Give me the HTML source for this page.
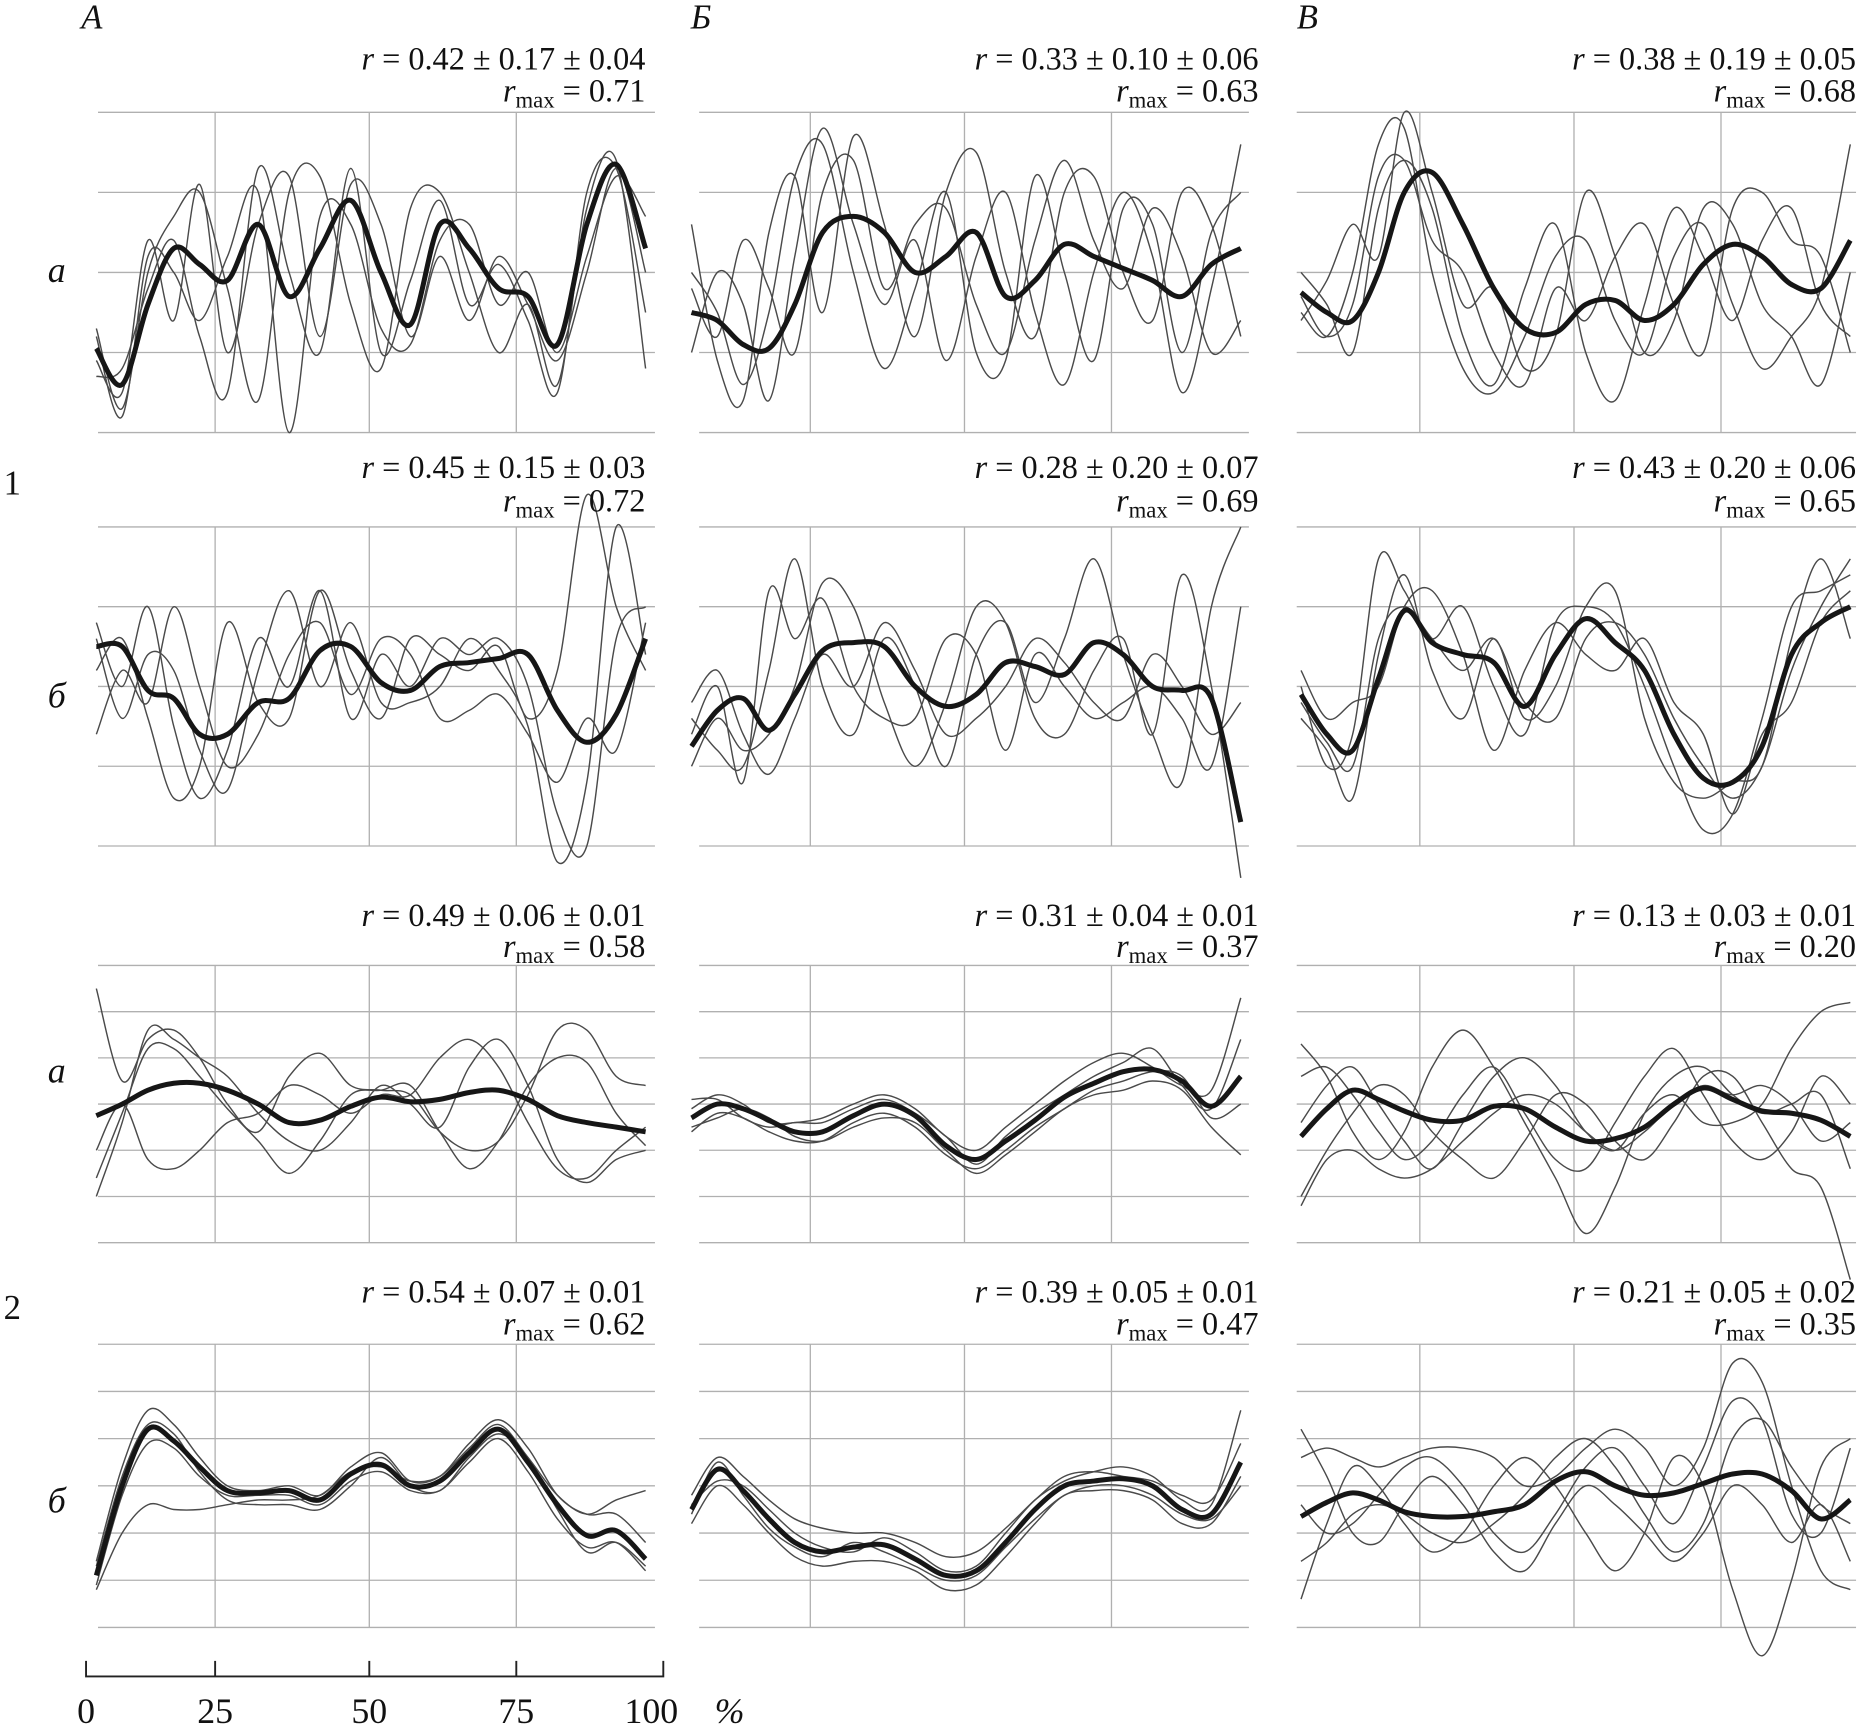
<!DOCTYPE html>
<html><head><meta charset="utf-8"><style>
html,body{margin:0;padding:0;background:#fff;}
svg{display:block;}
text{font-family:"Liberation Serif","DejaVu Serif",serif;fill:#111;}
</style></head><body>
<svg id="fig" width="1868" height="1729" viewBox="0 0 1563 1447" preserveAspectRatio="none" xmlns="http://www.w3.org/2000/svg"></svg>
<script>
const xsPct = [2,7,12,17,22,27,32,37,42,47,52,57,62,67,72,77,82,87,92,97];
const colLabels = ["А","Б","В"];
const rowLabels = ["а","б","а","б"];
const groupLabels = ["1","2"];
const axisTicks = [0,25,50,75,100];
const rTexts = [
 ["r = 0.42 ± 0.17 ± 0.04","r = 0.33 ± 0.10 ± 0.06","r = 0.38 ± 0.19 ± 0.05"],
 ["r = 0.45 ± 0.15 ± 0.03","r = 0.28 ± 0.20 ± 0.07","r = 0.43 ± 0.20 ± 0.06"],
 ["r = 0.49 ± 0.06 ± 0.01","r = 0.31 ± 0.04 ± 0.01","r = 0.13 ± 0.03 ± 0.01"],
 ["r = 0.54 ± 0.07 ± 0.01","r = 0.39 ± 0.05 ± 0.01","r = 0.21 ± 0.05 ± 0.02"]];
const rMax = [["0.71","0.63","0.68"],["0.72","0.69","0.65"],["0.58","0.37","0.20"],["0.62","0.47","0.35"]];

// Row 1a
const mean1aA=[1.05,0.6,1.6,2.3,2.1,1.9,2.6,1.7,2.3,2.9,2.0,1.35,2.6,2.3,1.8,1.7,1.1,2.6,3.35,2.3];
const thin1aA=[[1.3,0.3,2.0,2.7,3.0,1.8,0.4,3.0,3.2,1.6,0.8,2.8,3.0,2.0,1.0,1.6,0.6,2.8,3.4,0.8],[0.9,0.5,2.4,1.4,3.1,1.0,2.6,3.2,1.2,3.1,2.6,1.2,2.2,1.4,2.2,1.6,0.9,2.0,3.3,2.0],[0.7,0.8,1.8,2.4,1.2,0.5,3.3,2.0,1.0,3.3,1.0,1.9,2.9,1.6,2.1,1.4,0.5,3.0,3.3,1.5],[1.2,0.2,2.2,2.0,1.4,2.2,3.0,0.0,2.7,2.6,1.3,1.1,2.4,2.6,1.6,2.0,1.0,2.2,3.2,2.7]];
const mean1aB=[1.5,1.4,1.1,1.05,1.6,2.5,2.7,2.5,2.0,2.2,2.5,1.7,1.9,2.35,2.2,2.05,1.9,1.7,2.1,2.3];
const thin1aB=[[2.0,1.5,0.6,1.5,3.2,3.6,2.0,0.8,1.8,3.0,1.0,0.9,3.2,2.0,0.9,2.8,2.6,1.0,2.5,3.0],[2.6,0.9,0.4,2.5,3.2,1.5,3.7,2.6,1.2,3.0,3.5,2.0,1.2,3.0,3.2,2.0,1.4,3.0,2.6,1.2],[1.0,2.0,1.6,0.4,2.2,3.8,2.6,1.6,2.4,0.9,2.2,3.0,1.5,0.6,2.0,3.0,2.2,0.5,1.8,3.6],[1.8,1.2,2.4,1.8,1.0,3.0,3.4,1.8,2.6,2.8,1.6,1.0,2.4,3.4,2.4,1.8,2.8,2.2,1.0,1.4]];
const mean1aV=[1.75,1.5,1.4,2.0,3.0,3.25,2.6,1.8,1.3,1.25,1.6,1.65,1.4,1.6,2.1,2.35,2.2,1.85,1.8,2.4];
const thin1aV=[[1.5,1.2,2.0,3.6,3.8,2.0,0.8,0.5,1.2,2.2,2.4,1.4,1.0,2.2,2.6,1.6,0.8,1.2,1.8,3.6],[2.0,1.6,1.0,2.8,3.4,2.8,1.2,0.6,1.8,2.6,1.0,0.4,1.6,2.8,2.2,1.4,2.4,2.8,1.6,1.2],[1.4,1.9,2.6,2.2,4.0,3.0,1.6,1.8,0.8,1.2,3.0,2.2,1.0,1.4,2.8,2.6,1.6,1.2,0.6,2.0],[1.7,1.2,1.6,3.2,3.4,2.4,2.0,1.0,0.6,1.8,1.4,2.2,2.6,1.6,1.0,2.8,3.0,2.4,2.2,1.0]];
// Row 1b
const mean1bA=[2.5,2.5,1.95,1.85,1.4,1.4,1.8,1.85,2.45,2.5,2.05,1.95,2.25,2.3,2.35,2.4,1.7,1.3,1.65,2.6];
const thin1bA=[[2.8,2.0,3.0,1.5,0.6,1.2,2.6,2.0,3.2,1.6,2.4,2.0,2.6,2.4,2.6,2.0,0.4,0.0,2.6,3.0],[2.2,2.6,1.6,0.6,1.0,2.8,1.8,1.6,3.2,2.2,1.6,2.6,2.4,2.2,2.5,1.6,2.2,4.4,3.0,2.2],[2.6,1.6,2.4,2.2,1.2,0.7,2.2,3.2,2.0,2.8,1.8,1.8,2.0,2.6,2.2,1.5,-0.2,0.8,4.0,2.4],[1.4,2.2,1.8,3.0,2.0,1.0,1.4,2.4,2.8,1.9,2.6,2.4,1.6,1.7,1.9,1.4,0.8,1.6,1.2,2.8]];
const mean1bB=[1.25,1.7,1.85,1.45,1.9,2.45,2.55,2.5,2.0,1.75,1.9,2.3,2.25,2.15,2.55,2.4,2.0,1.95,1.85,0.3];
const thin1bB=[[1.6,1.2,1.0,2.2,3.6,2.0,1.4,2.6,2.0,1.0,2.4,2.8,1.8,2.6,3.6,2.4,1.4,0.8,3.0,4.0],[1.4,2.0,0.8,3.2,2.6,3.1,2.0,1.6,1.6,2.6,2.4,1.2,2.4,2.0,1.6,1.8,2.0,1.6,1.0,3.0],[1.0,1.6,1.2,1.4,2.0,3.3,3.0,1.8,1.0,1.8,3.0,2.8,1.6,1.4,2.2,2.6,1.4,3.4,2.0,-0.4],[1.8,2.2,1.4,0.9,1.6,2.4,2.0,2.8,2.2,1.4,1.6,2.0,2.6,2.3,1.8,1.6,2.4,2.0,1.4,1.8]];
const mean1bV=[1.9,1.4,1.2,2.1,2.95,2.55,2.4,2.3,1.75,2.4,2.85,2.55,2.2,1.4,0.85,0.8,1.25,2.4,2.8,3.0];
const thin1bV=[[2.0,1.0,1.4,3.6,3.2,2.6,3.0,2.0,1.4,2.8,3.0,2.8,2.0,1.0,0.2,0.4,1.6,3.0,3.2,3.4],[1.6,1.2,0.6,2.4,3.4,2.2,1.6,2.6,1.6,2.0,3.0,3.2,1.6,0.8,0.6,0.8,1.0,2.6,3.6,2.6],[2.2,1.6,1.8,2.0,3.0,3.2,2.4,1.2,2.2,2.8,2.4,2.2,2.6,1.8,1.4,0.4,1.4,1.8,2.8,3.2],[1.8,1.3,1.0,2.6,3.0,2.6,2.2,2.6,1.8,1.6,2.6,2.8,2.4,1.6,1.0,0.6,1.0,2.2,3.0,3.6]];
// Row 2a
const mean2aA=[2.75,3.0,3.3,3.45,3.45,3.3,3.0,2.6,2.65,2.95,3.15,3.05,3.1,3.25,3.3,3.1,2.75,2.6,2.5,2.4];
const thin2aA=[[5.5,3.5,4.4,4.6,4.0,3.0,2.4,3.6,4.1,3.4,3.3,3.2,2.4,2.0,2.2,3.2,4.6,4.6,3.6,3.4],[1.0,2.6,4.6,4.4,4.0,3.6,2.8,2.2,2.0,2.6,3.4,3.0,2.5,3.8,4.4,3.4,1.8,1.3,1.8,2.0],[2.0,3.0,1.8,1.6,2.0,2.6,2.8,3.4,3.2,2.8,3.2,3.2,4.0,4.4,3.8,2.6,1.6,1.4,2.0,2.5],[1.4,2.8,4.2,4.2,3.6,2.9,2.2,1.5,2.2,3.2,3.3,3.4,2.4,1.6,2.2,3.4,4.0,3.9,2.8,2.1]];
const mean2aB=[2.7,3.0,2.9,2.65,2.4,2.4,2.75,3.0,2.75,2.1,1.8,2.2,2.65,3.15,3.45,3.7,3.75,3.5,2.95,3.6];
const thin2aB=[[2.9,3.2,3.0,2.6,2.6,2.7,3.0,3.2,2.9,2.3,2.0,2.5,3.0,3.5,3.9,4.1,3.8,3.4,3.3,5.3],[2.4,2.8,2.7,2.4,2.2,2.2,2.6,2.8,2.5,1.9,1.6,2.0,2.5,2.9,3.3,3.5,3.7,3.6,2.7,3.0],[3.1,3.1,2.7,2.5,2.6,2.6,2.9,3.1,2.8,2.3,1.7,2.3,2.8,3.2,3.6,3.9,4.2,3.4,2.9,4.4],[2.5,2.7,2.9,2.7,2.3,2.2,2.5,2.7,2.6,2.0,1.5,1.9,2.4,2.9,3.2,3.3,3.5,3.3,2.5,1.9]];
const mean2aV=[2.3,2.9,3.3,3.1,2.85,2.65,2.65,2.95,2.9,2.5,2.2,2.25,2.5,3.0,3.35,3.1,2.85,2.8,2.65,2.3];
const thin2aV=[[4.3,3.6,2.4,1.8,2.4,3.8,4.6,3.8,2.6,1.4,0.2,1.2,2.8,3.6,3.8,3.2,2.8,3.0,3.2,1.6],[2.6,3.4,3.8,3.0,2.2,1.6,2.6,3.6,4.0,3.4,2.4,2.0,2.8,3.2,2.6,2.6,3.0,4.2,5.0,5.2],[1.0,2.0,2.8,3.4,3.2,2.4,1.8,1.4,2.2,3.2,3.0,2.2,1.8,2.6,3.6,3.6,2.6,1.6,1.2,-0.8],[3.6,3.8,3.2,2.4,1.8,2.2,3.2,3.8,2.8,1.8,1.6,2.6,3.6,4.2,3.2,2.2,1.8,2.4,3.6,3.0],[0.8,1.8,2.0,1.6,1.4,1.6,2.2,2.8,3.2,3.0,2.4,2.0,2.4,3.0,3.4,3.2,3.4,3.0,2.2,2.6]];
// Row 2b
const mean2bA=[1.1,3.0,4.2,3.95,3.4,2.9,2.85,2.9,2.7,3.25,3.45,3.0,3.1,3.7,4.2,3.5,2.6,1.95,2.05,1.45];
const thin2bA=[[1.4,3.4,4.6,4.3,3.6,3.0,2.9,3.0,2.8,3.4,3.7,3.1,3.2,3.9,4.4,3.8,2.8,2.4,2.4,1.8],[0.9,2.8,3.9,3.8,3.2,2.8,2.8,2.8,2.6,3.1,3.3,2.9,2.9,3.5,4.0,3.3,2.3,1.7,1.8,1.2],[0.8,2.0,2.6,2.5,2.5,2.6,2.7,2.7,2.8,3.3,3.4,3.1,3.2,3.8,4.3,3.6,2.8,2.4,2.7,2.9],[1.3,3.2,4.3,4.1,3.3,2.7,2.6,2.6,2.5,3.0,3.6,3.0,2.9,3.6,4.1,3.6,2.5,1.6,1.8,1.3]];
const mean2bB=[2.5,3.35,2.9,2.3,1.8,1.6,1.7,1.75,1.45,1.1,1.2,1.8,2.5,3.0,3.1,3.15,3.0,2.5,2.4,3.5];
const thin2bB=[[2.8,3.6,3.2,2.7,2.3,2.1,2.0,2.0,1.8,1.5,1.6,2.1,2.7,3.2,3.3,3.2,3.1,2.8,2.7,3.9],[2.2,3.0,2.6,2.0,1.5,1.3,1.4,1.4,1.2,0.8,0.9,1.5,2.2,2.8,2.9,2.9,2.7,2.2,2.2,3.2],[2.6,3.1,3.0,2.5,2.0,1.7,1.6,1.9,1.6,1.2,1.3,2.0,2.7,3.1,3.3,3.4,3.2,2.7,2.6,4.6],[2.4,3.5,2.8,2.1,1.7,1.5,1.8,1.6,1.3,1.0,1.1,1.7,2.3,2.8,3.0,3.0,2.8,2.4,2.3,3.0]];
const mean2bV=[2.35,2.65,2.85,2.7,2.45,2.35,2.35,2.45,2.6,3.1,3.3,3.0,2.8,2.85,3.05,3.25,3.25,2.9,2.3,2.7];
const thin2bV=[[3.6,3.8,3.6,3.4,3.6,3.8,3.8,3.6,3.0,3.2,3.8,4.2,3.8,3.0,3.8,5.6,5.2,3.0,1.2,0.8],[0.6,2.2,3.4,3.0,2.2,1.6,2.0,3.0,3.6,3.0,2.0,1.2,2.0,3.6,3.0,0.8,-0.6,1.0,3.4,4.0],[2.6,2.0,2.2,2.8,3.4,3.6,3.0,2.0,1.6,2.4,3.4,3.8,3.0,2.2,3.4,4.8,4.4,2.4,2.0,3.8],[4.2,3.2,2.0,1.8,2.6,3.2,2.6,1.6,1.2,2.2,3.0,2.6,2.0,1.4,2.0,3.0,2.6,1.8,2.6,1.4],[1.4,1.8,2.4,2.6,2.4,2.0,1.8,2.2,2.8,3.6,4.0,3.4,2.4,1.6,2.2,4.0,4.4,3.4,2.6,2.2]];

const means=[[mean1aA,mean1aB,mean1aV],[mean1bA,mean1bB,mean1bV],[mean2aA,mean2aB,mean2aV],[mean2bA,mean2bB,mean2bV]];
const thins=[[thin1aA,thin1aB,thin1aV],[thin1bA,thin1bB,thin1bV],[thin2aA,thin2aB,thin2aV],[thin2bA,thin2bB,thin2bV]];

const colOff=[0,498,1008];
const xKnots=[72,180,309,432,555];
const gridX=[[82,548],[585,1045],[1085,1553]];
const rowTop=[94,441,808,1125], rowBot=[362,708,1040,1362], rowN=[4,4,6,6];
const NS="http://www.w3.org/2000/svg";
const FF='"Liberation Serif", "DejaVu Serif", serif';
const svg=document.getElementById('fig');
function mk(tag,attrs,parent){const e=document.createElementNS(NS,tag);for(const k in attrs)e.setAttribute(k,attrs[k]);(parent||svg).appendChild(e);return e;}
function xScale(c,p){const i=Math.min(3,Math.floor(p/25));const t=(p-i*25)/25;return colOff[c]+xKnots[i]+t*(xKnots[i+1]-xKnots[i]);}
function yScale(r,v){return rowBot[r]-v*(rowBot[r]-rowTop[r])/rowN[r];}
function smooth(pts){let d="M"+pts[0][0].toFixed(1)+","+pts[0][1].toFixed(1);for(let i=0;i<pts.length-1;i++){const p0=pts[Math.max(0,i-1)],p1=pts[i],p2=pts[i+1],p3=pts[Math.min(pts.length-1,i+2)];const c1=[p1[0]+(p2[0]-p0[0])/6,p1[1]+(p2[1]-p0[1])/6],c2=[p2[0]-(p3[0]-p1[0])/6,p2[1]-(p3[1]-p1[1])/6];d+=" C"+c1[0].toFixed(1)+","+c1[1].toFixed(1)+" "+c2[0].toFixed(1)+","+c2[1].toFixed(1)+" "+p2[0].toFixed(1)+","+p2[1].toFixed(1);}return d;}
const rightEdge=[540,1053,1553];
const rBase=[[58,85],[400,428],[775,801],[1090,1117]];

for(let r=0;r<4;r++){for(let c=0;c<3;c++){
 const g=mk('g',{});
 
 
 for(let k=0;k<=rowN[r];k++){const y=rowTop[r]+k*(rowBot[r]-rowTop[r])/rowN[r];
  const l=mk('line',{x1:gridX[c][0],x2:gridX[c][1],y1:y,y2:y,stroke:'#b0b0b0','stroke-width':1.1},g);
  
  }
 for(let k=1;k<=3;k++){const x=xScale(c,k*25);
  const l=mk('line',{x1:x,x2:x,y1:rowTop[r],y2:rowBot[r],stroke:'#b0b0b0','stroke-width':1.1},g);
  
  }
 thins[r][c].forEach(s=>{const p=mk('path',{d:smooth(s.map((v,i)=>[xScale(c,xsPct[i]),yScale(r,v)])),fill:'none',stroke:'#4a4a4a','stroke-width':1.2},g);
  
  });
 const m=mk('path',{d:smooth(means[r][c].map((v,i)=>[xScale(c,xsPct[i]),yScale(r,v)])),fill:'none',stroke:'#161616','stroke-width':4.2,'stroke-linejoin':'round'},g);
 
 
 const t1=mk('text',{x:rightEdge[c],y:rBase[r][0],'text-anchor':'end','font-size':27,'font-family':FF},g);
 t1.innerHTML='<tspan font-style="italic">r</tspan>'+rTexts[r][c].slice(1);
 
 
 const t2=mk('text',{x:rightEdge[c],y:rBase[r][1],'text-anchor':'end','font-size':27,'font-family':FF},g);
 t2.innerHTML='<tspan font-style="italic">r</tspan><tspan font-size="19" dy="5">max</tspan><tspan dy="-5"> = '+rMax[r][c]+'</tspan>';
 
 
}}
const hx=[68,578,1085];
colLabels.forEach((s,i)=>{const t=mk('text',{x:hx[i],y:24,'font-size':29,'font-style':'italic','font-family':FF});t.textContent=s;
 
 });
const ry=[236,592,906,1266];
rowLabels.forEach((s,i)=>{const t=mk('text',{x:40,y:ry[i],'font-size':30,'font-style':'italic','font-family':FF});t.textContent=s;
 
 });
const gy=[414,1104];
groupLabels.forEach((s,i)=>{const t=mk('text',{x:3,y:gy[i],'font-size':29,'font-family':FF});t.textContent=s;
 
 });
const ax=mk('path',{d:'M72,1390 V1403 H555 V1390',fill:'none',stroke:'#222','stroke-width':1.6});


axisTicks.forEach(v=>{const x=xScale(0,v);
 if(v>0&&v<100){const tk=mk('line',{x1:x,x2:x,y1:1390,y2:1403,stroke:'#222','stroke-width':1.6});
  
  }
 const t=mk('text',{x:v===100?x-10:x,y:1442,'font-size':30,'text-anchor':'middle','font-family':FF});t.textContent=v;
 
 });
const pc=mk('text',{x:598,y:1442,'font-size':30,'font-style':'italic','font-family':FF});pc.textContent='%';


</script>
</body></html>
